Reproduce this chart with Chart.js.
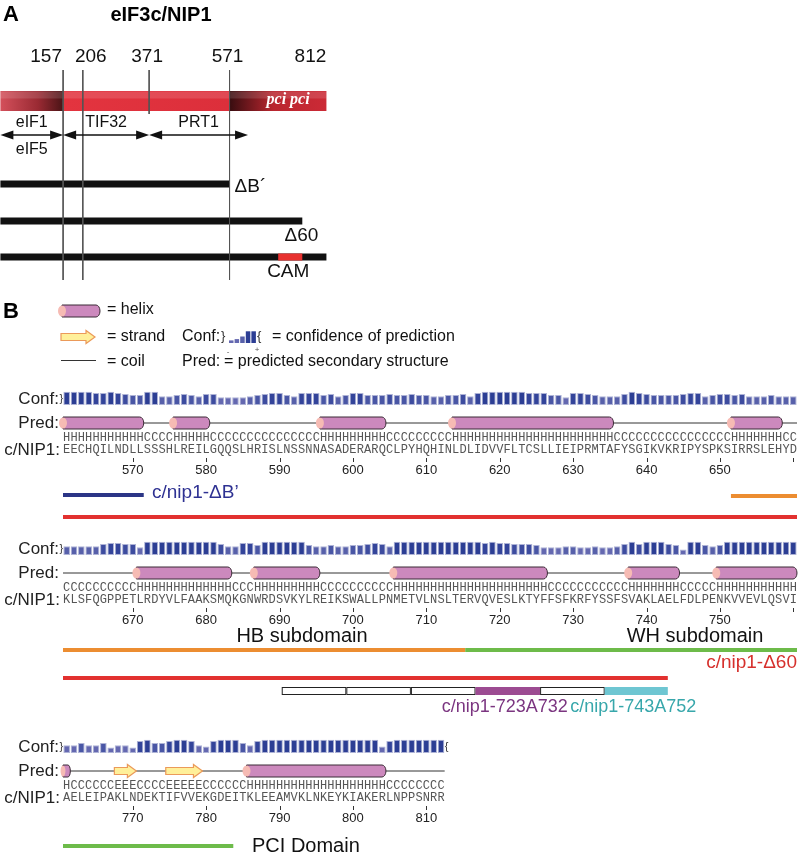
<!DOCTYPE html>
<html>
<head>
<meta charset="utf-8">
<script src="https://cdn.jsdelivr.net/npm/chart.js@4.4.1/dist/chart.umd.min.js"></script>
<style>
  html, body { margin: 0; padding: 0; background: #fff; }
  #wrap { position: relative; width: 800px; height: 856px; }
</style>
</head>
<body>
<div id="wrap"><canvas id="chart"></canvas></div>
<script>
// ---- values ----
const proteinLength = 812;
const domainBounds = [157, 206, 371, 571, 812];
const guideLines = [157, 206, 371, 571];
const longGuides = [157, 206, 571];
const partnerNames = ['eIF1', 'TIF32', 'PRT1'];
const partnerSub = ['eIF5', '', ''];
const partnerRanges = [[1, 157], [157, 371], [371, 617]];
const constructNames = ['ΔB´', 'Δ60', 'CAM'];
const constructRanges = [[1, 571], [1, 752], [1, 812]];
const camRange = [692, 752];

const rowStarts = [561, 661, 761];
const seqRows = [
  'EECHQILNDL' + 'LSSSHLREIL' + 'GQQSLHRISL' + 'NSSNNASADE' + 'RARQCLPYHQ' +
  'HINLDLIDVV' + 'FLTCSLLIEI' + 'PRMTAFYSGI' + 'KVKRIPYSPK' + 'SIRRSLEHYD',
  'KLSFQGPPET' + 'LRDYVLFAAK' + 'SMQKGNWRDS' + 'VKYLREIKSW' + 'ALLPNMETVL' +
  'NSLTERVQVE' + 'SLKTYFFSFK' + 'RFYSSFSVAK' + 'LAELFDLPEN' + 'KVVEVLQSVI',
  'AELEIPAKLN' + 'DEKTIFVVEK' + 'GDEITKLEEA' + 'MVKLNKEYKI' + 'AKERLNPPSN' + 'RR'
];
const predRows = [
  'HHHHHHHHHH' + 'HCCCCHHHHH' + 'CCCCCCCCCC' + 'CCCCCHHHHH' + 'HHHHCCCCCC' +
  'CCCHHHHHHH' + 'HHHHHHHHHH' + 'HHHHHCCCCC' + 'CCCCCCCCCC' + 'CHHHHHHHCC',
  'CCCCCCCCCC' + 'HHHHHHHHHH' + 'HHHCCCHHHH' + 'HHHHHCCCCC' + 'CCCCCHHHHH' +
  'HHHHHHHHHH' + 'HHHHHHCCCC' + 'CCCCCCCHHH' + 'HHHHCCCCCH' + 'HHHHHHHHHH',
  'HCCCCCCEEE' + 'CCCCEEEEEC' + 'CCCCCHHHHH' + 'HHHHHHHHHH' + 'HHHHCCCCCC' + 'CC'
];
const confRows = [
  [9,9,9,9,8,8,9,8,7,6, 6,9,9,5,5,6,7,6,5,7, 7,4,4,4,4,5,6,7,8,8, 6,5,8,8,8,6,7,5,6,8,
   8,6,6,6,7,6,6,7,6,6, 5,5,6,6,7,5,8,9,9,9, 9,9,9,8,8,8,6,6,4,8, 8,7,6,5,5,5,7,9,8,7,
   6,6,6,6,7,8,8,5,6,7, 7,6,7,5,5,5,6,5,5,5],
  [5,5,5,5,5,7,8,8,7,7, 4,9,9,9,9,9,9,9,9,9, 9,7,5,5,8,8,6,9,9,9, 9,9,9,6,5,5,6,5,5,6,
   6,7,8,7,5,9,9,9,9,9, 9,9,9,9,9,9,9,8,9,8, 8,7,7,7,6,4,4,4,5,5, 4,4,5,4,4,5,7,9,7,9,
   9,9,7,6,2,9,9,6,5,6, 9,9,9,9,9,9,9,9,9,9],
  [4,4,6,4,4,6,2,4,4,2, 8,9,6,6,8,9,9,8,4,3, 8,9,9,9,6,4,8,9,9,9, 9,9,9,9,9,9,9,9,9,9,
   9,9,9,3,8,9,9,9,9,9, 9,9]
];
// construct / domain segments, as residue boundaries
const segKeys = ['deltaB', 'hb', 'wh', 'delta60'];
const segEdges = [[560.5, 571.5], [651.5, 715.3], [715.3, 783.7], [560.5, 742.9]];
const alaEdges = [690.3, 699.1, 707.9, 716.7, 725.5, 734.3, 742.9];
const alaNames = ['', '', '', 'c/nip1-723A732', '', 'c/nip1-743A752'];

// ---- layout and style ----
const W = 800, H = 856;
const SANS = "'Liberation Sans', Arial, Helvetica, sans-serif";
const MONO = "'Liberation Mono', 'Courier New', monospace";
const PX_A = 0.402;                 // px per residue in panel A
const ROW_X0 = 63, ROW_X1 = 797, ROW_SLOTS = 100;
const PER_RES = (ROW_X1 - ROW_X0) / ROW_SLOTS;
const CONF_FLOOR = 3, CONF_UNIT = 1.1;   // conf bar height = (floor + value) * unit px

const L = {
  numY: 57, numOffsets: [-17, 8, -2, -2, -16],
  guideTop: 70, guideBottom: 280, guideShort: 114,
  barY: 101, arrowY: 135, partnerY: 123, partnerSubY: 150,
  constructY: [184, 221, 257],
  rows: [
    { conf: 405, deltaB: 495, hb: 496, delta60: 517 },
    { conf: 555, hb: 650, wh: 650, delta60: 678, ala: 691 },
    { conf: 753, wh: 846 }
  ]
};

const STYLE = {
  seg: { deltaB: '#2b3586', hb: '#ec8d31', wh: '#6dbb4a', delta60: '#e2312f' },
  ala: { 'c/nip1-723A732': '#9c4b92', 'c/nip1-743A752': '#6ec6d2' },
  alaText: { 'c/nip1-723A732': '#7b3580', 'c/nip1-743A752': '#37a7ab' },
  helix: '#cc89bd', helixEdge: '#3b2b36', helixCap: '#f6bbb4',
  strand: '#fff09a', strandEdge: '#eb9a5a'
};

function confColor(v) {
  if (v >= 9) return '#2c3e94';
  if (v >= 8) return '#33449a';
  if (v >= 7) return '#3d4c9f';
  if (v >= 6) return '#4956a5';
  if (v >= 5) return '#5760aa';
  return '#6468b0';
}

function proteinGradient(c) {
  const chart = c.chart, xs = chart.scales.xA;
  if (!xs || !chart.chartArea) return '#d8303c';
  const x0 = xs.getPixelForValue(1), x1 = xs.getPixelForValue(proteinLength);
  const f = v => (xs.getPixelForValue(v) - x0) / (x1 - x0);
  const a = f(domainBounds[0]), b = f(domainBounds[3]);
  const g = chart.ctx.createLinearGradient(x0, 0, x1, 0);
  g.addColorStop(0, '#d4505b');
  g.addColorStop(a * 0.6, '#9a2a33');
  g.addColorStop(a, '#4a1416');
  g.addColorStop(a + 0.002, '#e3343f');
  g.addColorStop(b - 0.002, '#dc2f3b');
  g.addColorStop(b, '#380d10');
  g.addColorStop(b + (1 - b) * 0.45, '#b9262f');
  g.addColorStop(1, '#cc2a36');
  return g;
}

function line(xAxisID, x1, y1, x2, y2, color, width) {
  return {
    type: 'line', xAxisID, yAxisID: 'y',
    data: [{ x: x1, y: y1 }, { x: x2, y: y2 }],
    borderColor: color, borderWidth: width, borderCapStyle: 'butt',
    pointRadius: 0, fill: false, tension: 0
  };
}

// ---- scales ----
const scales = {
  y: { type: 'linear', min: 0, max: H, reverse: true, display: false },
  xA: { type: 'linear', axis: 'x', min: 0, max: W / PX_A, offset: false, bounds: 'data', display: false }
};
rowStarts.forEach((s, i) => {
  const min = s - 0.5 - ROW_X0 / PER_RES;
  scales['xR' + i] = { type: 'linear', axis: 'x', min, max: min + W / PER_RES, offset: false, bounds: 'data', display: false };
});

// ---- datasets (back to front) ----
const datasets = [];
datasets.push(line('xA', 1, L.barY, proteinLength, L.barY, proteinGradient, 20));
datasets.push(line('xA', 1, L.barY - 6, proteinLength, L.barY - 6, 'rgba(255,255,255,0.13)', 7));
constructRanges.forEach((r, i) => datasets.push(line('xA', r[0], L.constructY[i], r[1], L.constructY[i], '#111', 7)));
datasets.push(line('xA', camRange[0], L.constructY[2], camRange[1], L.constructY[2], '#e8312f', 7));
guideLines.forEach(v => {
  const bottom = longGuides.includes(v) ? L.guideBottom : L.guideShort;
  datasets.push(line('xA', v, L.guideTop, v, bottom, '#555', 1));
});

rowStarts.forEach((start, i) => {
  const R = L.rows[i];
  const axis = 'xR' + i;
  datasets.push({
    type: 'bar', xAxisID: axis, yAxisID: 'y',
    data: confRows[i].map((v, j) => ({ x: start + j, y: [R.conf, R.conf - (CONF_FLOOR + v) * CONF_UNIT] })),
    backgroundColor: confRows[i].map(confColor),
    borderColor: '#aeb3d6', borderWidth: 1, borderSkipped: false,
    barPercentage: 0.9, categoryPercentage: 1, grouped: false
  });
  const e0 = start - 0.5, e1 = start + seqRows[i].length - 0.5;
  datasets.push(line(axis, e0, R.conf + 18, e1, R.conf + 18, '#333', 1));
  const rowEnd = start + ROW_SLOTS - 0.5;
  segKeys.forEach((k, s) => {
    if (R[k] === undefined) return;
    const a = Math.max(segEdges[s][0], e0), b = Math.min(segEdges[s][1], rowEnd);
    if (b > a) datasets.push(line(axis, a, R[k], b, R[k], STYLE.seg[k], 4));
  });
});
datasets.forEach((d, i) => { d.order = datasets.length - i; });

// ---- drawing helpers ----
function text(ctx, s, x, y, font, color, align) {
  ctx.font = font; ctx.fillStyle = color;
  ctx.textAlign = align || 'left'; ctx.textBaseline = 'middle';
  ctx.fillText(s, x, y);
}

function drawHelix(ctx, x1, x2, y, h) {
  const r = h / 2, cap = Math.min(4, (x2 - x1) / 3);
  ctx.beginPath();
  ctx.moveTo(x1, y - r);
  ctx.lineTo(x2 - cap, y - r);
  ctx.ellipse(x2 - cap, y, cap, r, 0, -Math.PI / 2, Math.PI / 2);
  ctx.lineTo(x1, y + r);
  ctx.closePath();
  ctx.fillStyle = STYLE.helix; ctx.fill();
  ctx.strokeStyle = STYLE.helixEdge; ctx.lineWidth = 1; ctx.stroke();
  ctx.beginPath();
  ctx.ellipse(x1, y, cap, r - 0.5, 0, 0, Math.PI * 2);
  ctx.fillStyle = STYLE.helixCap; ctx.fill();
}

function drawStrand(ctx, x1, x2, y) {
  const bw = 3.5, hh = 6.5, hl = Math.min(9, (x2 - x1) / 2);
  ctx.beginPath();
  ctx.moveTo(x1, y - bw);
  ctx.lineTo(x2 - hl, y - bw);
  ctx.lineTo(x2 - hl, y - hh);
  ctx.lineTo(x2, y);
  ctx.lineTo(x2 - hl, y + hh);
  ctx.lineTo(x2 - hl, y + bw);
  ctx.lineTo(x1, y + bw);
  ctx.closePath();
  ctx.fillStyle = STYLE.strand; ctx.fill();
  ctx.strokeStyle = STYLE.strandEdge; ctx.lineWidth = 1.2; ctx.stroke();
}

function drawArrow(ctx, x1, x2, y) {
  const hl = 13, hw = 4.5;
  ctx.strokeStyle = '#111'; ctx.lineWidth = 1.5;
  ctx.beginPath(); ctx.moveTo(x1 + hl - 1, y); ctx.lineTo(x2 - hl + 1, y); ctx.stroke();
  ctx.fillStyle = '#111';
  ctx.beginPath(); ctx.moveTo(x1, y); ctx.lineTo(x1 + hl, y - hw); ctx.lineTo(x1 + hl, y + hw); ctx.closePath(); ctx.fill();
  ctx.beginPath(); ctx.moveTo(x2, y); ctx.lineTo(x2 - hl, y - hw); ctx.lineTo(x2 - hl, y + hw); ctx.closePath(); ctx.fill();
}

function runs(str) {
  const out = [];
  for (let j = 0; j < str.length; j++) {
    const last = out[out.length - 1];
    if (last && last.ch === str[j]) last.to = j;
    else out.push({ ch: str[j], from: j, to: j });
  }
  return out;
}

const figurePlugin = {
  id: 'figure',
  afterDatasetsDraw(chart) {
    const ctx = chart.ctx;
    const sA = chart.scales.xA;
    const pA = v => sA.getPixelForValue(v);
    ctx.save();

    // panel A
    text(ctx, 'A', 3, 15, `bold 22px ${SANS}`, '#000');
    text(ctx, 'eIF3c/NIP1', 161, 15, `bold 20px ${SANS}`, '#000', 'center');
    domainBounds.forEach((v, i) => text(ctx, String(v), pA(v) + L.numOffsets[i], L.numY, `19px ${SANS}`, '#111', 'center'));
    text(ctx, 'pci pci', pA(domainBounds[3]) + 37, L.barY - 1, `italic bold 16px 'Liberation Serif', 'Times New Roman', serif`, '#fff');
    partnerRanges.forEach((r, i) => {
      const x1 = pA(r[0]), x2 = pA(r[1]), xm = (x1 + x2) / 2;
      drawArrow(ctx, x1, x2, L.arrowY);
      text(ctx, partnerNames[i], xm, L.partnerY, `16px ${SANS}`, '#111', 'center');
      if (partnerSub[i]) text(ctx, partnerSub[i], xm, L.partnerSubY, `16px ${SANS}`, '#111', 'center');
    });
    text(ctx, constructNames[0], pA(constructRanges[0][1]) + 5, L.constructY[0] + 3, `19px ${SANS}`, '#111', 'left');
    text(ctx, constructNames[1], pA(constructRanges[1][1]) + 16, L.constructY[1] + 15, `19px ${SANS}`, '#111', 'right');
    text(ctx, constructNames[2], pA((camRange[0] + camRange[1]) / 2) - 2, L.constructY[2] + 15, `19px ${SANS}`, '#111', 'center');

    // panel B legend
    text(ctx, 'B', 3, 312, `bold 22px ${SANS}`, '#000');
    drawHelix(ctx, 62, 100, 311, 12);
    drawStrand(ctx, 61, 95, 337);
    ctx.strokeStyle = '#333'; ctx.lineWidth = 1;
    ctx.beginPath(); ctx.moveTo(61, 360.5); ctx.lineTo(96, 360.5); ctx.stroke();
    text(ctx, '= helix', 107, 310, `16px ${SANS}`, '#111');
    text(ctx, '= strand', 107, 337, `16px ${SANS}`, '#111');
    text(ctx, '= coil', 107, 362, `16px ${SANS}`, '#111');
    text(ctx, 'Conf:', 182, 337, `16px ${SANS}`, '#111');
    text(ctx, '}', 221, 336, `13px ${SANS}`, '#333');
    [2, 3, 5, 9, 9].forEach((v, k) => {
      ctx.fillStyle = confColor(v);
      ctx.fillRect(229 + k * 5.6, 343 - v * 1.3, 4.5, v * 1.3);
    });
    text(ctx, '{', 257, 336, `13px ${SANS}`, '#333');
    text(ctx, '= confidence of prediction', 272, 337, `16px ${SANS}`, '#111');
    text(ctx, 'Pred:', 182, 362, `16px ${SANS}`, '#111');
    text(ctx, '= predicted secondary structure', 224, 362, `16px ${SANS}`, '#111');
    text(ctx, '-', 228, 352, `8px ${SANS}`, '#555', 'center');
    text(ctx, '+', 257, 350, `8px ${SANS}`, '#555', 'center');

    // sequence rows
    rowStarts.forEach((start, i) => {
      const s = chart.scales['xR' + i];
      const px = v => s.getPixelForValue(v);
      const R = L.rows[i];
      const n = seqRows[i].length;
      text(ctx, 'Conf:', 59, R.conf - 6, `17px ${SANS}`, '#222', 'right');
      text(ctx, '}', 59.5, R.conf - 6, `11px ${SANS}`, '#333');
      if (i === rowStarts.length - 1) text(ctx, '{', px(start + n - 0.5), R.conf - 6, `11px ${SANS}`, '#333');
      text(ctx, 'Pred:', 59, R.conf + 18, `17px ${SANS}`, '#222', 'right');
      text(ctx, 'c/NIP1:', 60, R.conf + 45, `17px ${SANS}`, '#222', 'right');

      runs(predRows[i]).forEach(r => {
        const x1 = px(start + r.from - 0.5), x2 = px(start + r.to + 0.5);
        if (r.ch === 'H') drawHelix(ctx, x1, x2, R.conf + 18, 12);
        else if (r.ch === 'E') drawStrand(ctx, x1, x2, R.conf + 18);
      });
      for (let j = 0; j < n; j++) {
        text(ctx, predRows[i][j], px(start + j), R.conf + 33, `12px ${MONO}`, '#555', 'center');
        text(ctx, seqRows[i][j], px(start + j), R.conf + 45, `12px ${MONO}`, '#555', 'center');
      }
      ctx.strokeStyle = '#333'; ctx.lineWidth = 1;
      for (let r = Math.ceil(start / 10) * 10; r < start + n; r += 10) {
        const x = Math.round(px(r)) + 0.5;
        ctx.beginPath(); ctx.moveTo(x, R.conf + 53); ctx.lineTo(x, R.conf + 57); ctx.stroke();
        if (r < start + n - 1) text(ctx, String(r), px(r), R.conf + 65, `13px ${SANS}`, '#222', 'center');
      }

      if (R.ala !== undefined) {
        for (let k = 0; k < alaEdges.length - 1; k++) {
          const x1 = px(alaEdges[k]), x2 = px(alaEdges[k + 1]);
          const name = alaNames[k];
          if (name) {
            ctx.fillStyle = STYLE.ala[name];
            ctx.fillRect(x1, R.ala - 4, x2 - x1, 8);
            text(ctx, name, (x1 + x2) / 2 - 3, R.ala + 16, `18px ${SANS}`, STYLE.alaText[name], 'center');
          } else {
            ctx.fillStyle = '#fff';
            ctx.fillRect(x1, R.ala - 4, x2 - x1, 8);
            ctx.strokeStyle = '#222';
            ctx.strokeRect(x1 + 0.5, R.ala - 3.5, x2 - x1 - 1, 7);
          }
        }
      }
    });

    // row annotations
    text(ctx, 'c/nip1-ΔB’', 152, 493, `19px ${SANS}`, '#2e3192');
    text(ctx, 'HB subdomain', 302, 636, `20px ${SANS}`, '#111', 'center');
    text(ctx, 'WH subdomain', 695, 636, `20px ${SANS}`, '#111', 'center');
    text(ctx, 'c/nip1-Δ60', 797, 663, `19px ${SANS}`, '#d6302c', 'right');
    text(ctx, 'PCI Domain', 252, 846, `20px ${SANS}`, '#111');

    ctx.restore();
  }
};

new Chart(document.getElementById('chart'), {
  type: 'bar',
  data: { datasets },
  options: {
    responsive: true,
    maintainAspectRatio: false,
    animation: false,
    events: [],
    layout: { padding: 0 },
    plugins: { legend: { display: false }, tooltip: { enabled: false }, title: { display: false } },
    scales
  },
  plugins: [figurePlugin]
});
</script>
</body>
</html>
